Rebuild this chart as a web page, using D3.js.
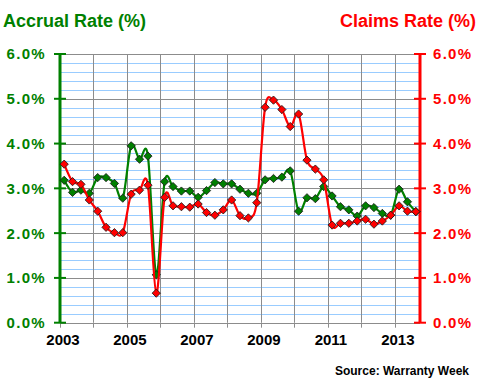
<!DOCTYPE html>
<html><head><meta charset="utf-8">
<script src="https://cdn.jsdelivr.net/npm/d3@7"></script>
<style>body{margin:0;background:#fff}svg{display:block;font-family:"Liberation Sans",Arial,sans-serif}</style>
</head><body>
<svg id="c" width="480" height="380"></svg>
<script>
const quarters = ["2003Q1","2003Q2","2003Q3","2003Q4","2004Q1","2004Q2","2004Q3","2004Q4",
 "2005Q1","2005Q2","2005Q3","2005Q4","2006Q1","2006Q2","2006Q3","2006Q4",
 "2007Q1","2007Q2","2007Q3","2007Q4","2008Q1","2008Q2","2008Q3","2008Q4",
 "2009Q1","2009Q2","2009Q3","2009Q4","2010Q1","2010Q2","2010Q3","2010Q4",
 "2011Q1","2011Q2","2011Q3","2011Q4","2012Q1","2012Q2","2012Q3","2012Q4",
 "2013Q1","2013Q2","2013Q3"];
const accrual = [3.18,2.91,2.96,2.89,3.24,3.24,3.11,2.78,3.95,3.65,3.72,1.07,3.15,3.04,2.94,2.94,
 2.80,2.95,3.13,3.10,3.10,2.98,2.89,2.89,3.19,3.22,3.25,3.39,2.49,2.79,2.77,3.04,
 2.83,2.59,2.52,2.38,2.61,2.57,2.44,2.40,2.98,2.70,2.48];
const claims = [3.54,3.15,3.09,2.74,2.49,2.13,2.01,2.01,2.87,2.96,3.07,0.66,2.80,2.61,2.59,2.58,
 2.65,2.46,2.40,2.52,2.74,2.39,2.34,2.68,4.81,4.97,4.76,4.38,4.66,3.63,3.43,3.19,
 2.18,2.22,2.22,2.27,2.31,2.20,2.27,2.40,2.61,2.49,2.48];
const years = [2003,2004,2005,2006,2007,2008,2009,2010,2011,2012,2013];
const yearLabels = ["2003","2005","2007","2009","2011","2013"];
const pctTicks = [0,1,2,3,4,5,6];
const pctLabels = ["0.0%","1.0%","2.0%","3.0%","4.0%","5.0%","6.0%"];

const svg = d3.select("#c");
const L = 60, R = 420, T = 54, B = 322.7;
const x = d3.scaleLinear().domain([0, quarters.length]).range([L, R]);
const yL = d3.scaleLinear().domain([0, 6]).range([B, T]);
const yR = d3.scaleLinear().domain([0, 6]).range([B, T]);
const yearX = yr => x((yr - 2003) * 4);

const GREEN = "#008000", RED = "#ff0000";

// minor gridlines
const minor = d3.range(1, 30).map(i => i * 0.2).filter(v => Math.abs(v - Math.round(v)) > 1e-6);
svg.append("g").selectAll("line").data(minor).join("line")
  .attr("x1", L).attr("x2", R).attr("y1", d => Math.round(yL(d)) + 0.5).attr("y2", d => Math.round(yL(d)) + 0.5)
  .attr("stroke", "#99ccff").attr("stroke-width", 1);
// major horizontal
svg.append("g").selectAll("line").data(pctTicks.slice(1)).join("line")
  .attr("x1", L).attr("x2", R).attr("y1", d => Math.round(yL(d)) + 0.5).attr("y2", d => Math.round(yL(d)) + 0.5)
  .attr("stroke", "#8c8c8c").attr("stroke-width", 1);
// vertical year gridlines
svg.append("g").selectAll("line").data(years.slice(1)).join("line")
  .attr("x1", d => Math.round(yearX(d)) + 0.5).attr("x2", d => Math.round(yearX(d)) + 0.5)
  .attr("y1", T).attr("y2", B)
  .attr("stroke", "#8c8c8c").attr("stroke-width", 1);
// bottom axis
svg.append("line").attr("x1", L).attr("x2", R).attr("y1", Math.round(B) + 0.5).attr("y2", Math.round(B) + 0.5)
  .attr("stroke", "#8c8c8c").attr("stroke-width", 1);
svg.append("g").selectAll("line").data(years).join("line")
  .attr("x1", d => Math.round(yearX(d)) + 0.5).attr("x2", d => Math.round(yearX(d)) + 0.5)
  .attr("y1", B).attr("y2", B + 5)
  .attr("stroke", "#8c8c8c").attr("stroke-width", 1);
svg.append("g").selectAll("text").data(yearLabels).join("text")
  .attr("x", d => yearX(+d) + 3).attr("y", 345).attr("text-anchor", "middle")
  .attr("font-size", 15).attr("font-weight", "bold").attr("fill", "#000").text(d => d);

// left axis
svg.append("line").attr("x1", L).attr("x2", L).attr("y1", T).attr("y2", B)
  .attr("stroke", GREEN).attr("stroke-width", 3);
svg.append("g").selectAll("line").data(pctTicks).join("line")
  .attr("x1", L - 6).attr("x2", L + 6).attr("y1", d => yL(d)).attr("y2", d => yL(d))
  .attr("stroke", GREEN).attr("stroke-width", 2);
svg.append("g").selectAll("text").data(pctTicks).join("text")
  .attr("x", 46).attr("y", d => yL(d)).attr("dy", "0.36em").attr("text-anchor", "end")
  .attr("font-size", 15).attr("font-weight", "bold").attr("letter-spacing", 1.3)
  .attr("fill", GREEN).text((d, i) => pctLabels[i]);

// right axis
svg.append("line").attr("x1", R).attr("x2", R).attr("y1", T).attr("y2", B)
  .attr("stroke", RED).attr("stroke-width", 3);
svg.append("g").selectAll("line").data(pctTicks).join("line")
  .attr("x1", R - 6).attr("x2", R + 6).attr("y1", d => yR(d)).attr("y2", d => yR(d))
  .attr("stroke", RED).attr("stroke-width", 2);
svg.append("g").selectAll("text").data(pctTicks).join("text")
  .attr("x", 433).attr("y", d => yR(d)).attr("dy", "0.36em").attr("text-anchor", "start")
  .attr("font-size", 15).attr("font-weight", "bold").attr("letter-spacing", 1.3)
  .attr("fill", RED).text((d, i) => pctLabels[i]);

// series
const curve = d3.curveCatmullRom.alpha(0);
function series(vals, ys, color) {
  const line = d3.line().x((d, i) => x(i + 0.5)).y(d => ys(d)).curve(curve);
  svg.append("path").datum(vals).attr("d", line).attr("fill", "none")
    .attr("stroke", color).attr("stroke-width", 2.2).attr("stroke-linejoin", "round");
  const sym = d3.symbol().type(d3.symbolSquare).size(34);
  svg.append("g").selectAll("path").data(vals).join("path")
    .attr("d", sym)
    .attr("transform", (d, i) => `translate(${x(i + 0.5)},${ys(d)}) rotate(45)`)
    .attr("fill", color).attr("stroke", "#1a1a1a").attr("stroke-width", 0.8);
}
series(accrual, yL, GREEN);
series(claims, yR, RED);

// titles
svg.append("text").attr("x", 3).attr("y", 27).attr("font-size", 18).attr("font-weight", "bold")
  .attr("fill", GREEN).text("Accrual Rate (%)");
svg.append("text").attr("x", 476).attr("y", 27).attr("text-anchor", "end").attr("font-size", 18)
  .attr("font-weight", "bold").attr("fill", RED).text("Claims Rate (%)");
svg.append("text").attr("x", 469).attr("y", 375).attr("text-anchor", "end").attr("font-size", 12)
  .attr("font-weight", "bold").attr("fill", "#000").text("Source: Warranty Week");
</script>
</body></html>
